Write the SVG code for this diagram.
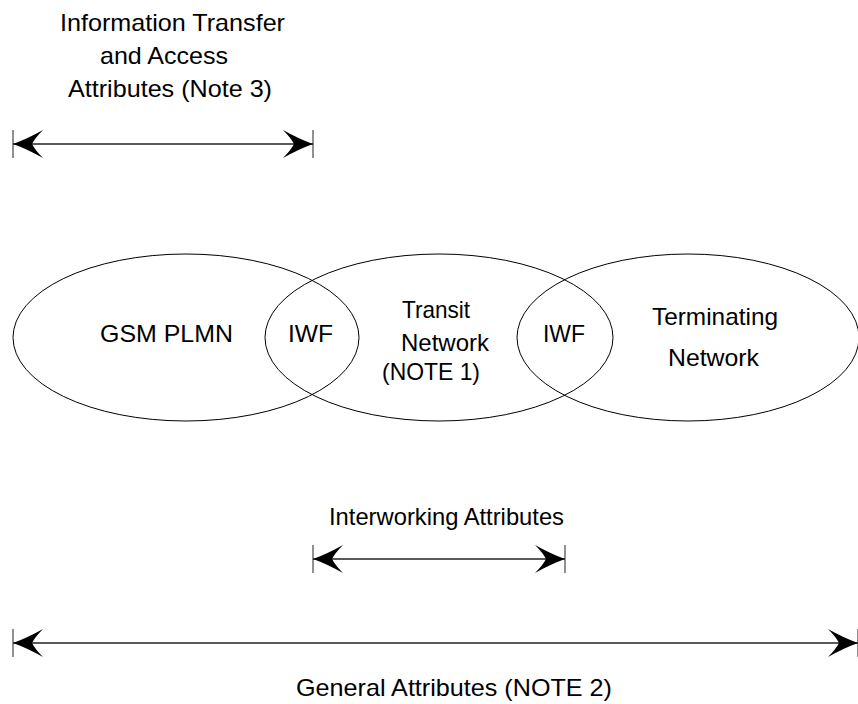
<svg xmlns="http://www.w3.org/2000/svg" width="858" height="704" viewBox="0 0 858 704">
  <style>
    .net { fill: none; stroke: #000; stroke-width: 1; }
    .lbl { font-family: "Liberation Sans", Arial, sans-serif; font-size: 24px; fill: #000; }
    .dim { stroke: #222; stroke-width: 1.3; fill: none; }
    .tick { stroke: #555; stroke-width: 1.3; }
  </style>
  <defs>
    <marker id="head" markerUnits="userSpaceOnUse" viewBox="-32 -15 34 30" markerWidth="34" markerHeight="30" refX="0" refY="0" orient="auto-start-reverse">
      <path d="M0,0 Q-14,-5 -30,-14 Q-22,-6 -19,0 Q-22,6 -30,14 Q-14,5 0,0 Z" fill="#000"/>
    </marker>
  </defs>
  <rect width="858" height="704" fill="#fff"/>

  <g id="gsm-plmn">
    <ellipse class="net" cx="186" cy="337.5" rx="173" ry="83.5"/>
    <text class="lbl" x="100" y="342" textLength="133" lengthAdjust="spacingAndGlyphs">GSM PLMN</text>
  </g>
  <g id="transit-network">
    <ellipse class="net" cx="439" cy="337.5" rx="174" ry="83.5"/>
    <text class="lbl" x="402" y="318" textLength="68" lengthAdjust="spacingAndGlyphs">Transit</text>
    <text class="lbl" x="401" y="351" textLength="88" lengthAdjust="spacingAndGlyphs">Network</text>
    <text class="lbl" x="382" y="380" textLength="98" lengthAdjust="spacingAndGlyphs">(NOTE 1)</text>
  </g>
  <g id="terminating-network">
    <ellipse class="net" cx="688" cy="337.5" rx="171" ry="83.5"/>
    <text class="lbl" x="652" y="325" textLength="126" lengthAdjust="spacingAndGlyphs">Terminating</text>
    <text class="lbl" x="668" y="366" textLength="91" lengthAdjust="spacingAndGlyphs">Network</text>
  </g>
  <g id="iwf-1">
    <text class="lbl" x="288" y="342" textLength="45" lengthAdjust="spacingAndGlyphs">IWF</text>
  </g>
  <g id="iwf-2">
    <text class="lbl" x="543" y="342" textLength="42" lengthAdjust="spacingAndGlyphs">IWF</text>
  </g>

  <g id="connectors">
    <line class="tick" x1="13" y1="130" x2="13" y2="158"/>
    <line class="tick" x1="313" y1="130" x2="313" y2="158"/>
    <line class="dim" x1="13" y1="144" x2="313" y2="144" marker-start="url(#head)" marker-end="url(#head)"/>

    <line class="tick" x1="313" y1="545" x2="313" y2="573"/>
    <line class="tick" x1="565" y1="545" x2="565" y2="573"/>
    <line class="dim" x1="313" y1="559" x2="565" y2="559" marker-start="url(#head)" marker-end="url(#head)"/>

    <line class="tick" x1="13" y1="629" x2="13" y2="657"/>
    <line class="tick" x1="858" y1="629" x2="858" y2="657"/>
    <line class="dim" x1="13" y1="643" x2="858" y2="643" marker-start="url(#head)" marker-end="url(#head)"/>
  </g>

  <g id="label-info-transfer">
    <text class="lbl" x="60" y="31" textLength="225" lengthAdjust="spacingAndGlyphs">Information Transfer</text>
    <text class="lbl" x="100" y="64" textLength="128" lengthAdjust="spacingAndGlyphs">and Access</text>
    <text class="lbl" x="68" y="97" textLength="204" lengthAdjust="spacingAndGlyphs">Attributes (Note 3)</text>
  </g>
  <g id="label-interworking">
    <text class="lbl" x="329" y="525" textLength="235" lengthAdjust="spacingAndGlyphs">Interworking Attributes</text>
  </g>
  <g id="label-general">
    <text class="lbl" x="296" y="696" textLength="316" lengthAdjust="spacingAndGlyphs">General Attributes (NOTE 2)</text>
  </g>
</svg>
